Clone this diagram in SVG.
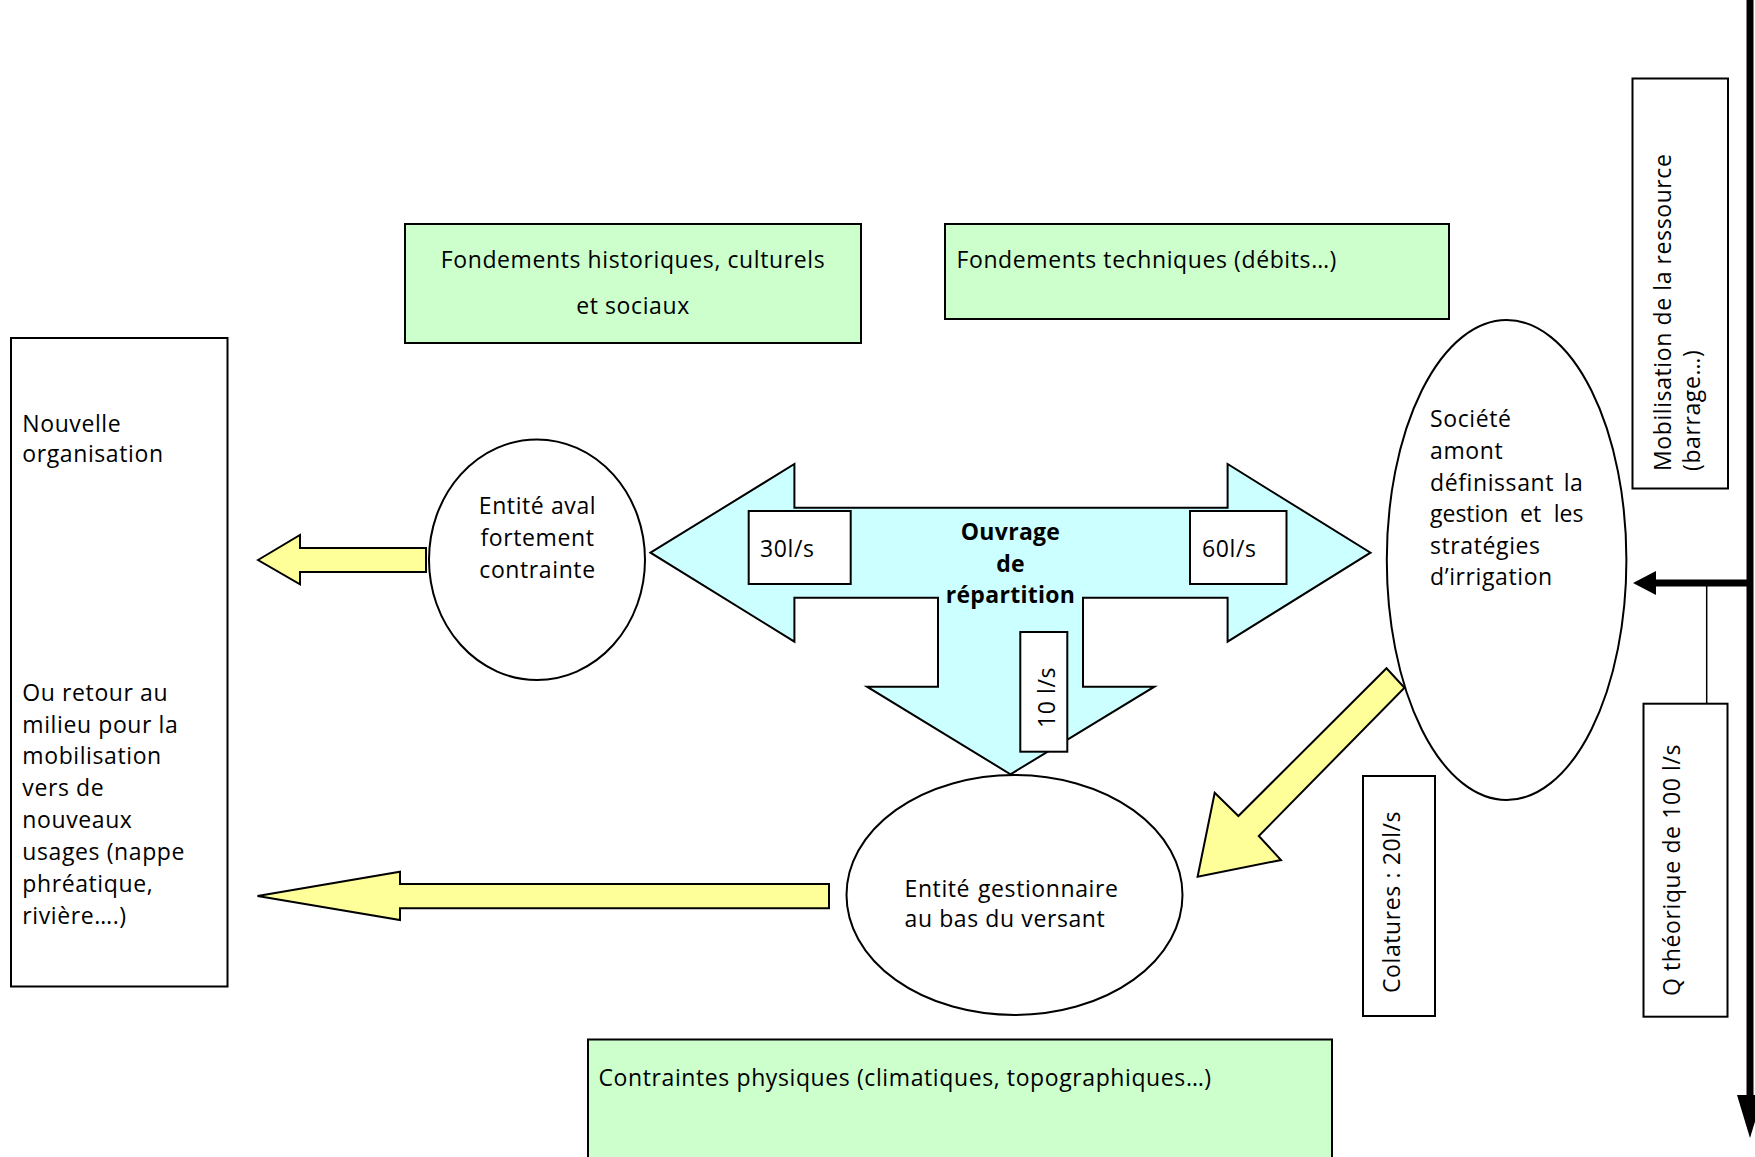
<svg xmlns="http://www.w3.org/2000/svg" width="1755" height="1157" viewBox="0 0 1755 1157">
<style>
.t{font-family:"Open Sans","Liberation Sans",sans-serif;font-size:23px;fill:#000;letter-spacing:0.6px}
.b{font-weight:bold;letter-spacing:0.3px}
.n{letter-spacing:0}
.box{stroke:#000;stroke-width:2}
.g{fill:#ccffcc}
.w{fill:#fff}
.y{fill:#ffff99;stroke:#000;stroke-width:2;stroke-linejoin:miter}
.c{fill:#ccffff;stroke:#000;stroke-width:2}
</style>
<rect width="1755" height="1157" fill="#fff"/>
<g id="fond-hist">
<rect class="box g" x="405" y="224" width="456" height="119"/>
<text class="t" x="633" y="267.7" text-anchor="middle">Fondements historiques, culturels</text>
<text class="t" x="633" y="314" text-anchor="middle">et sociaux</text>
</g>
<g id="fond-tech">
<rect class="box g" x="945" y="224" width="504" height="95"/>
<text class="t" x="956.5" y="267.7">Fondements techniques (débits…)</text>
</g>
<g id="contraintes">
<rect class="box g" x="588" y="1039.5" width="744" height="130"/>
<text class="t" x="598.5" y="1086">Contraintes physiques (climatiques, topographiques…)</text>
</g>
<g id="nouvelle">
<rect class="box w" x="11" y="338" width="216.5" height="648.5"/>
<text class="t" x="22.3" y="431.5">Nouvelle</text>
<text class="t" x="22.3" y="462">organisation</text>
<text class="t" x="22.3" y="700.7">Ou retour au</text>
<text class="t" x="22.3" y="732.5">milieu pour la</text>
<text class="t" x="22.3" y="764.3">mobilisation</text>
<text class="t" x="22.3" y="796.1">vers de</text>
<text class="t" x="22.3" y="827.9">nouveaux</text>
<text class="t" x="22.3" y="859.7">usages (nappe</text>
<text class="t" x="22.3" y="891.5">phréatique,</text>
<text class="t" x="22.3" y="923.5">rivière….)</text>
</g>
<g id="entite-aval">
<ellipse class="box w" cx="537" cy="559.7" rx="108" ry="120.3"/>
<text class="t" x="537.5" y="514" text-anchor="middle">Entité aval</text>
<text class="t" x="537.5" y="546" text-anchor="middle">fortement</text>
<text class="t" x="537.5" y="577.5" text-anchor="middle">contrainte</text>
</g>
<g id="ouvrage">
<polygon class="c" points="650.5,552.7 794.4,464 794.4,507.7 1227.6,507.7 1227.6,464 1370.5,552.7 1227.6,641.7 1227.6,597.7 1083,597.7 1083,686.7 1154.4,686.7 1010.5,774.3 867,686.7 938,686.7 938,597.7 794.4,597.7 794.4,641.7"/>
<text class="t b" x="1010.5" y="540" text-anchor="middle">Ouvrage</text>
<text class="t b" x="1010.5" y="571.7" text-anchor="middle">de</text>
<text class="t b" x="1010.5" y="603" text-anchor="middle">répartition</text>
</g>
<g id="q30">
<rect class="box w" x="748.7" y="511" width="102" height="73"/>
<text class="t" x="760" y="557">30l/s</text>
</g>
<g id="q60">
<rect class="box w" x="1190" y="511" width="96.5" height="73"/>
<text class="t" x="1202" y="557">60l/s</text>
</g>
<g id="q10">
<rect class="box w" x="1020.3" y="632" width="47" height="119.7"/>
<text class="t" transform="translate(1054.7,728) rotate(-90)">10 l/s</text>
</g>
<g id="entite-gest">
<ellipse class="box w" cx="1014.5" cy="895" rx="168" ry="120"/>
<text class="t" x="904.5" y="896.7">Entité<tspan x="978">gestionnaire</tspan></text>
<text class="t" x="904.5" y="927.3">au bas du versant</text>
</g>
<g id="societe">
<ellipse class="box w" cx="1506.6" cy="560" rx="119.8" ry="240"/>
<text class="t" x="1430" y="427">Société</text>
<text class="t" x="1430" y="459">amont</text>
<text class="t" x="1430" y="490.5">définissant<tspan x="1583.5" text-anchor="end">la</tspan></text>
<text class="t n" x="1430" y="522">gestion<tspan x="1520">et</tspan><tspan x="1583.5" text-anchor="end">les</tspan></text>
<text class="t" x="1430" y="553.5">stratégies</text>
<text class="t" x="1430" y="585">d’irrigation</text>
</g>
<g id="colatures">
<rect class="box w" x="1363" y="776" width="72" height="240"/>
<text class="t" transform="translate(1400,993) rotate(-90)">Colatures : 20l/s</text>
</g>
<g id="mobilisation">
<rect class="box w" x="1632.5" y="78.5" width="95.5" height="410"/>
<text class="t" transform="translate(1671,471) rotate(-90)">Mobilisation de la ressource</text>
<text class="t" transform="translate(1700,471) rotate(-90)">(barrage…)</text>
</g>
<g id="qtheo">
<rect class="box w" x="1643.5" y="703.7" width="84" height="313"/>
<text class="t" transform="translate(1680,996) rotate(-90)">Q théorique de 100 l/s</text>
</g>
<g id="connectors">
<polygon class="y" points="258,560 300,535 300,548 426,548 426,572 300,572 300,584.3"/>
<polygon class="y" points="257.5,896 400,871.7 400,884 829,884 829,908.3 400,908.3 400,920"/>
<polygon class="y" points="1386.5,668.3 1404.5,687.7 1258.8,836 1281,860 1197.6,876.7 1214.7,792.7 1238.4,816"/>
<line x1="1750" y1="0" x2="1750" y2="1100" stroke="#000" stroke-width="7"/>
<polygon points="1737,1095 1763,1095 1750,1138" fill="#000"/>
<line x1="1750" y1="583" x2="1654" y2="583" stroke="#000" stroke-width="7"/>
<polygon points="1656,571 1656,595 1633,583" fill="#000"/>
<line x1="1706.7" y1="583" x2="1706.7" y2="703.7" stroke="#000" stroke-width="1.5"/>
</g>
</svg>
